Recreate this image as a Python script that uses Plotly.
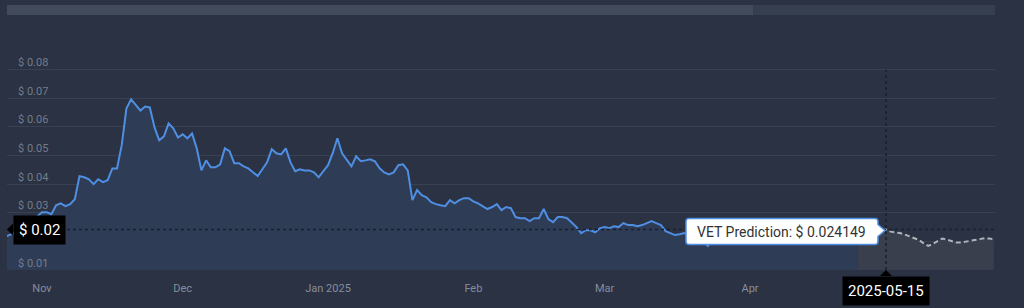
import plotly.graph_objects as go
import pandas as pd

# ---------------- data ----------------
hist_start = "2024-10-24"
hist_prices = [
    0.0215, 0.0222, 0.0229, 0.0243, 0.0253, 0.0264, 0.0274, 0.0288,  # Oct 24-31
    0.0302, 0.0302, 0.0295, 0.0326, 0.0333, 0.0323, 0.0330, 0.0347, 0.0428, 0.0424,  # Nov 1-10
    0.0417, 0.0400, 0.0417, 0.0407, 0.0414, 0.0455, 0.0455, 0.0536, 0.0664, 0.0696,  # Nov 11-20
    0.0678, 0.0657, 0.0671, 0.0668, 0.0598, 0.0553, 0.0567, 0.0612, 0.0595, 0.0563,  # Nov 21-30
    0.0574, 0.0560, 0.0577, 0.0525, 0.0448, 0.0483, 0.0459, 0.0459, 0.0469, 0.0525,  # Dec 1-10
    0.0515, 0.0473, 0.0473, 0.0462, 0.0455, 0.0441, 0.0428, 0.0452, 0.0476, 0.0522,  # Dec 11-20
    0.0508, 0.0504, 0.0525, 0.0476, 0.0445, 0.0452, 0.0448, 0.0448, 0.0441, 0.0424, 0.0445,  # Dec 21-31
    0.0466, 0.0508, 0.0560, 0.0508, 0.0487, 0.0462, 0.0497, 0.0480, 0.0483, 0.0487,  # Jan 1-10
    0.0480, 0.0455, 0.0441, 0.0434, 0.0441, 0.0466, 0.0469, 0.0448, 0.0344, 0.0379,  # Jan 11-20
    0.0361, 0.0354, 0.0337, 0.0330, 0.0326, 0.0323, 0.0344, 0.0333, 0.0344, 0.0351, 0.0351,  # Jan 21-31
    0.0340, 0.0333, 0.0323, 0.0313, 0.0320, 0.0330, 0.0309, 0.0320, 0.0316, 0.0285,  # Feb 1-10
    0.0281, 0.0281, 0.0271, 0.0281, 0.0281, 0.0313, 0.0278, 0.0267, 0.0285, 0.0285,  # Feb 11-20
    0.0281, 0.0267, 0.0250, 0.0229, 0.0239, 0.0239, 0.0232, 0.0246,  # Feb 21-28
    0.0250, 0.0246, 0.0253, 0.0250, 0.0264, 0.0257, 0.0257, 0.0253, 0.0257, 0.0264,  # Mar 1-10
    0.0271, 0.0264, 0.0257, 0.0236, 0.0229, 0.0222, 0.0225, 0.0229, 0.0222, 0.0218,  # Mar 11-20
    0.0211, 0.0201, 0.0184, 0.0205, 0.0211, 0.0215, 0.0218, 0.0215, 0.0222, 0.0225, 0.0218,  # Mar 21-31
    0.0222, 0.0215, 0.0218, 0.0225, 0.0218, 0.0222, 0.0229, 0.0222, 0.0218, 0.0225,  # Apr 1-10
    0.0229, 0.0222, 0.0225, 0.0232, 0.0229, 0.0225, 0.0232, 0.0229, 0.0232, 0.0236,  # Apr 11-20
    0.0232, 0.0236, 0.0236, 0.0236,  # Apr 21-24
]
pred_start = "2025-04-24"
pred_prices = [
    0.0236, 0.0237, 0.0238, 0.0239, 0.0240, 0.0241, 0.02415,  # Apr 24-30
    0.0234, 0.0232, 0.0229, 0.0224, 0.0218, 0.0211, 0.0205, 0.0194, 0.0184, 0.0191,  # May 1-10
    0.0201, 0.0210, 0.0206, 0.0201, 0.0196, 0.0196, 0.0199, 0.0203, 0.0206, 0.0210,  # May 11-20
    0.0211, 0.0210, 0.0208,  # May 21-23
]
hover_date = "2025-04-30"
hover_value = 0.02415
hover_text = "VET Prediction: $ 0.024149"
hover_date_label = "2025-05-15"
axis_price_label = "$ 0.02"

x_tick_vals = ["2024-11-01", "2024-12-01", "2025-01-01", "2025-02-01", "2025-03-01", "2025-04-01"]
x_tick_text = ["Nov", "Dec", "Jan 2025", "Feb", "Mar", "Apr"]
y_tick_vals = [0.01, 0.02, 0.03, 0.04, 0.05, 0.06, 0.07, 0.08]
y_tick_text = ["$ 0.01", "$ 0.02", "$ 0.03", "$ 0.04", "$ 0.05", "$ 0.06", "$ 0.07", "$ 0.08"]

hist_dates = pd.date_range(hist_start, periods=len(hist_prices), freq="D")
pred_dates = pd.date_range(pred_start, periods=len(pred_prices), freq="D")

# ---------------- style ----------------
BG = "#2a3243"
GRID = "#384151"
LINE = "#4f8fe3"
FILL = "#2f3c56"
PRED_FILL = "#393f4d"
PRED_LINE = "#aeb2ba"
CROSS = "#1a1f2a"
TIP_BORDER = "#4f8fe3"
FONT = "Roboto"
X_RANGE = ["2024-10-24 12:52", "2025-05-23 06:00"]
Y_RANGE = [0.01, 0.09]

fig = go.Figure()

fig.add_trace(go.Scatter(
    x=hist_dates, y=hist_prices, mode="lines",
    line=dict(color=LINE, width=2), fill="tozeroy", fillcolor=FILL,
    hoverinfo="skip", showlegend=False,
))
fig.add_trace(go.Scatter(
    x=pred_dates, y=pred_prices, mode="lines",
    line=dict(color=PRED_LINE, width=2, dash="5px,3px"), fill="tozeroy", fillcolor=PRED_FILL,
    hoverinfo="skip", showlegend=False,
))

shapes = []
# crosshair lines
shapes.append(dict(type="line", xref="paper", yref="y", x0=0, x1=1, y0=hover_value, y1=hover_value,
                   line=dict(color=CROSS, width=1.5, dash="3px,3px"), layer="above"))
shapes.append(dict(type="line", xref="x", yref="y", x0=hover_date, x1=hover_date, y0=Y_RANGE[0], y1=0.08,
                   line=dict(color=CROSS, width=1.5, dash="3px,3px"), layer="above"))
# navigator scrollbar at top
shapes.append(dict(type="rect", xref="paper", yref="paper", x0=0, x1=0.7551, y0=1.1135, y1=1.1572,
                   fillcolor="#424b5b", line=dict(width=0), layer="below"))
shapes.append(dict(type="rect", xref="paper", yref="paper", x0=0.7551, x1=1, y0=1.1135, y1=1.1572,
                   fillcolor="#363f50", line=dict(width=0), layer="below"))
# tooltip box with pointer on its right side (pixel offsets from the hovered point)
shapes.append(dict(type="path", xref="x", yref="y", xsizemode="pixel", ysizemode="pixel",
                   xanchor=hover_date, yanchor=hover_value,
                   path=("M -197,11 Q -200,11 -200,8 L -200,-12 Q -200,-15 -197,-15 "
                         "L -11,-15 Q -8,-15 -8,-12 L -8,-7 L -1,-1 L -8,5 L -8,8 "
                         "Q -8,11 -11,11 Z"),
                   fillcolor="white", line=dict(color=TIP_BORDER, width=1.5), layer="above"))
# pointer of left price label
shapes.append(dict(type="path", xref="paper", yref="y", xsizemode="pixel", ysizemode="pixel",
                   xanchor=0, yanchor=hover_value,
                   path="M 0,0 L 6,6 L 6,-6 Z", fillcolor="black", line=dict(width=0), layer="above"))
# pointer of date label
shapes.append(dict(type="path", xref="x", yref="paper", xsizemode="pixel", ysizemode="pixel",
                   xanchor=hover_date, yanchor=0,
                   path="M 0,0 L 6,-6 L -6,-6 Z", fillcolor="black", line=dict(width=0), layer="above"))

annotations = []
# y-axis labels drawn inside the plot, just above each gridline (0.02 sits under the price badge)
for v, t in zip(y_tick_vals, y_tick_text):
    if abs(v - hover_value) < 0.005:
        continue
    annotations.append(dict(x=0, y=v, xref="paper", yref="y", text=t, showarrow=False,
                            xanchor="left", yanchor="middle", xshift=9, yshift=7,
                            font=dict(family=FONT, size=11, color="#737c8c")))

annotations += [
    dict(x=hover_date, y=hover_value, xref="x", yref="y", text=hover_text, showarrow=False,
         xanchor="center", yanchor="middle", xshift=-104, yshift=-2,
         font=dict(family=FONT, size=14, color="#333333")),
    dict(x=0, y=hover_value, xref="paper", yref="y", text=axis_price_label, showarrow=False,
         xanchor="left", yanchor="middle", xshift=6, bgcolor="black", borderpad=5,
         font=dict(family=FONT, size=15, color="white")),
    dict(x=hover_date, y=0, xref="x", yref="paper", text=hover_date_label, showarrow=False,
         xanchor="center", yanchor="top", yshift=-6, bgcolor="black", borderpad=5,
         font=dict(family=FONT, size=15, color="white")),
]

fig.update_layout(
    width=1024, height=308,
    margin=dict(l=7, r=29, t=41, b=38, pad=0),
    paper_bgcolor=BG, plot_bgcolor=BG,
    font=dict(family=FONT, color="#7d8696", size=11),
    shapes=shapes, annotations=annotations,
    hovermode=False,
    xaxis=dict(
        type="date", range=X_RANGE, tickmode="array",
        tickvals=x_tick_vals, ticktext=x_tick_text,
        showgrid=False, zeroline=False, showline=False,
        ticks="", ticklabelstandoff=10, automargin=False,
        tickfont=dict(family=FONT, size=11, color="#858e9e"),
    ),
    yaxis=dict(
        range=Y_RANGE, tickmode="array", tickvals=y_tick_vals, showticklabels=False,
        showgrid=True, gridcolor=GRID, gridwidth=1, zeroline=False, showline=False,
        ticks="", automargin=False,
    ),
)

fig.write_html("out.html")
